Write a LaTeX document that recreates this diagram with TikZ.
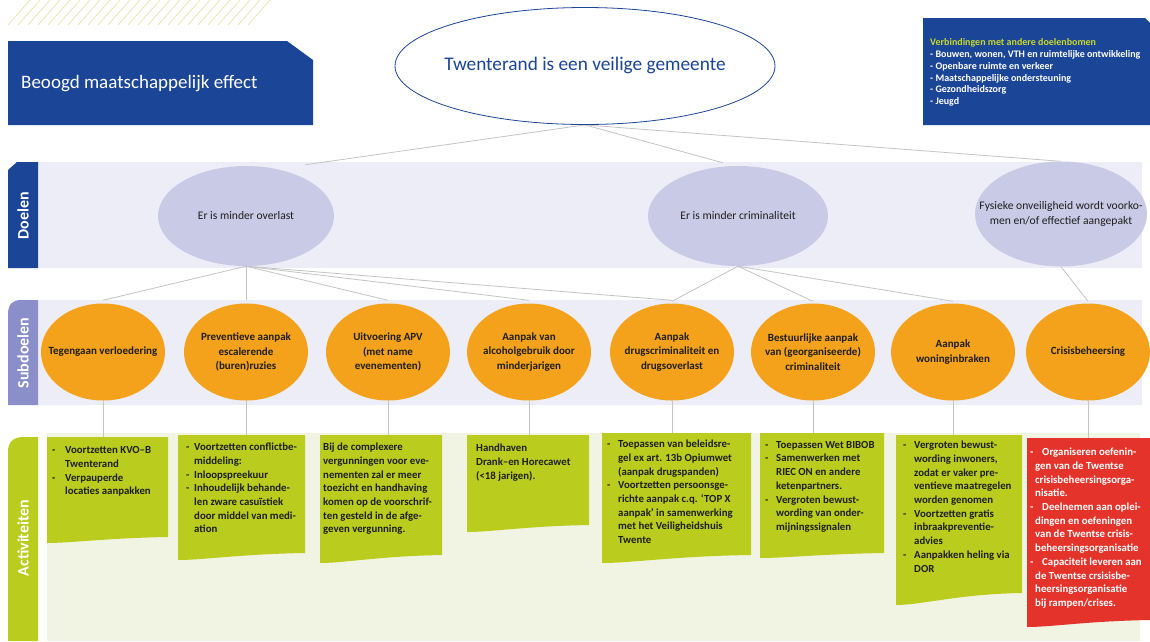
\documentclass[tikz,border=0pt]{standalone}
\usepackage{fontspec}
\setmainfont{Carlito}
\usetikzlibrary{shapes.geometric}
\definecolor{dblue}{RGB}{27,69,150}
\definecolor{lav}{RGB}{237,237,247}
\definecolor{doelfill}{RGB}{201,202,230}
\definecolor{subtab}{RGB}{138,142,201}
\definecolor{orng}{RGB}{244,162,27}
\definecolor{lgreen}{RGB}{186,205,30}
\definecolor{paleg}{RGB}{242,244,227}
\definecolor{rred}{RGB}{228,51,42}
\definecolor{ygtxt}{RGB}{200,217,42}
\definecolor{lgrey}{RGB}{196,196,196}
\definecolor{hatchc}{RGB}{226,224,160}
\definecolor{txt}{RGB}{30,30,30}
\pgfdeclarelayer{back}
\pgfdeclarelayer{lines}
\pgfsetlayers{back,lines,main}
\newcommand\dsh[1]{\makebox[#1][l]{-}}
\newcommand\ind[1]{\hspace*{#1}}
\newcommand\actbox[6]{%
  \fill[#1] (#2,#4) -- (#3,#4) -- (#3,#6) .. controls ({#2+0.5*(#3-#2)},{#6+1}) and ({#2+0.2*(#3-#2)},#5) .. (#2,#5) -- cycle;}
\begin{document}
\begin{tikzpicture}[x=1pt,y=-1pt,
 conn/.style={draw=lgrey,line width=0.8pt},
 ell/.style={ellipse,inner xsep=-45pt,inner ysep=-20pt,align=center},
 doel/.style={ell,fill=doelfill,minimum width=176pt,minimum height=100pt,text=txt,font=\fontsize{11.6}{15}\selectfont},
 sub/.style={ell,fill=orng,minimum width=124pt,minimum height=97pt,text=txt,font=\bfseries\fontsize{11}{14.5}\selectfont},
 acttext/.style={anchor=north west,align=left,inner sep=0pt,text=txt,font=\bfseries\fontsize{10.8}{13.7}\selectfont},
 tablabel/.style={rotate=90,text=white,font=\bfseries\fontsize{16}{16}\selectfont},
]
\useasboundingbox (0,0) rectangle (1150,641);

\begin{pgfonlayer}{back}
\fill[white] (0,0) rectangle (1150,641);
% hatch lines
\foreach \i in {0,...,24} \draw[hatchc,line width=0.6pt] ({8+10*\i},25) -- ({30+10*\i},0);
% bands
\fill[lav] (38,162) rectangle (1142,268);
\fill[lav] (38,300) rectangle (1142,405);
\fill[paleg] (47,433) rectangle (1140,641);
\end{pgfonlayer}

% title boxes
\fill[dblue] (8,41) -- (287,41) -- (313,60) -- (313,125) -- (8,125) -- cycle;
\node[anchor=west,text=white,font=\fontsize{19}{21}\selectfont,inner sep=0pt] (beoogd) at (21,84) {Beoogd maatschappelijk effect};

\fill[dblue] (923,18) -- (1145,18) -- (1150,23) -- (1150,125) -- (923,125) -- cycle;
\node[anchor=north west,align=left,inner sep=0pt,text=white,font=\bfseries\fontsize{10}{11.8}\selectfont] (verb) at (930,38.5)
 {\textcolor{ygtxt}{Verbindingen met andere doelenbomen}\\- Bouwen, wonen, VTH en ruimtelijke ontwikkeling\\- Openbare ruimte en verkeer\\- Maatschappelijke ondersteuning\\- Gezondheidszorg\\- Jeugd};

% tabs
\fill[dblue] (8,170) -- (17,162) -- (38,162) -- (38,268) -- (8,268) -- cycle;
\node[tablabel] (ldoel) at (23,216) {Doelen};
\fill[subtab] (8,405) -- (8,314) .. controls (8,305) and (12,300) .. (21,300) -- (38,300) -- (38,405) -- cycle;
\node[tablabel] (lsub) at (23,353) {Subdoelen};
\fill[lgreen] (8,641) -- (8,452) .. controls (8,442) and (13,437) .. (24,437) -- (38,437) -- (38,641) -- cycle;
\node[tablabel] (lact) at (23,538) {Activiteiten};

% top goal
\node[ell,inner xsep=-80pt,draw=dblue,line width=0.8pt,fill=white,minimum width=380pt,minimum height=117pt,text=dblue,font=\fontsize{19.3}{22}\selectfont] (T) at (585,66) {\raisebox{4pt}{Twenterand is een veilige gemeente}};

% goals
\node[doel] (D1) at (246,216) {Er is minder overlast};
\node[doel,minimum width=180pt] (D2) at (738,216) {Er is minder criminaliteit};
\node[doel,minimum width=172pt,minimum height=105pt] (D3) at (1061,214) {Fysieke onveiligheid wordt voorko-\\men en/of effectief aangepakt};

% subgoals
\node[sub] (S1) at (103,352) {Tegengaan verloedering};
\node[sub] (S2) at (246,352) {Preventieve aanpak\\escalerende\\(buren)ruzies};
\node[sub] (S3) at (388,352) {Uitvoering APV\\(met name\\evenementen)};
\node[sub] (S4) at (529,352) {Aanpak van\\alcoholgebruik door\\minderjarigen};
\node[sub] (S5) at (672,352) {Aanpak\\drugscriminaliteit en\\drugsoverlast};
\node[sub] (S6) at (813,352) {Bestuurlijke aanpak\\van (georganiseerde)\\criminaliteit};
\node[sub] (S7) at (953,352) {Aanpak\\woninginbraken};
\node[sub] (S8) at (1088,352) {Crisisbeheersing};

% activity boxes
\actbox{lgreen}{47}{168}{437}{543}{537}
\actbox{lgreen}{178}{305}{435}{560}{553}
\actbox{lgreen}{320}{442}{435}{563}{555}
\actbox{lgreen}{467}{589}{435}{532}{525}
\actbox{lgreen}{602}{751}{433}{563}{555}
\actbox{lgreen}{760}{884}{433}{558}{553}
\actbox{lgreen}{896}{1022}{435}{605}{593}
\actbox{rred}{1027}{1150}{438}{627}{620}

\coordinate (B1) at (103,437);
\coordinate (B2) at (246,435);
\coordinate (B3) at (388,435);
\coordinate (B4) at (529,435);
\coordinate (B5) at (672,433);
\coordinate (B6) at (813,433);
\coordinate (B7) at (953,435);
\coordinate (B8) at (1088,438);

% connectors
\begin{pgfonlayer}{lines}
\draw[conn] (T.south) -- ([xshift=59pt,yshift=1pt]D1.north);
\draw[conn] (T.south) -- ([xshift=-15pt,yshift=3pt]D2.north);
\draw[conn] (T.south) -- (D3.north);
\foreach \s in {S1,S2,S3,S4,S5} \draw[conn] (D1.south) -- ([yshift=3pt]\s.north);
\foreach \s in {S5,S6,S7} \draw[conn] (D2.south) -- ([yshift=2pt]\s.north);
\draw[conn] (D3.south) -- ([yshift=2pt]S8.north);
\foreach \i in {1,...,8} \draw[conn] (S\i.south) -- (B\i);
\end{pgfonlayer}

\node[acttext] (A1) at (52,446.5) {\dsh{13pt}Voortzetten KVO–B\\\ind{13pt}Twenterand\\\dsh{13pt}Verpauperde\\\ind{13pt}locaties aanpakken};
\node[acttext] (A2) at (186,443) {\dsh{8pt}Voortzetten conflictbe-\\\ind{8pt}middeling:\\\dsh{8pt}Inloopspreekuur\\\dsh{8pt}Inhoudelijk behande-\\\ind{8pt}len zware casuïstiek\\\ind{8pt}door middel van medi-\\\ind{8pt}ation};
\node[acttext] (A3) at (323,443) {Bij de complexere\\vergunningen voor eve-\\nementen zal er meer\\toezicht en handhaving\\komen op de voorschrif-\\ten gesteld in de afge-\\geven vergunning.};
\node[acttext] (A4) at (476,444) {Handhaven\\Drank–en Horecawet\\(<18 jarigen).};
\node[acttext] (A5) at (607,440) {\dsh{11pt}Toepassen van beleidsre-\\\ind{11pt}gel ex art. 13b Opiumwet\\\ind{11pt}(aanpak drugspanden)\\\dsh{11pt}Voortzetten persoonsge-\\\ind{11pt}richte aanpak c.q. ‘TOP X\\\ind{11pt}aanpak’ in samenwerking\\\ind{11pt}met het Veiligheidshuis\\\ind{11pt}Twente};
\node[acttext] (A6) at (765,441) {\dsh{11pt}Toepassen Wet BIBOB\\\dsh{11pt}Samenwerken met\\\ind{11pt}RIEC ON en andere\\\ind{11pt}ketenpartners.\\\dsh{11pt}Vergroten bewust-\\\ind{11pt}wording van onder-\\\ind{11pt}mijningssignalen};
\node[acttext] (A7) at (903,441) {\dsh{11pt}Vergroten bewust-\\\ind{11pt}wording inwoners,\\\ind{11pt}zodat er vaker pre-\\\ind{11pt}ventieve maatregelen\\\ind{11pt}worden genomen\\\dsh{11pt}Voortzetten gratis\\\ind{11pt}inbraakpreventie-\\\ind{11pt}advies\\\dsh{11pt}Aanpakken heling via\\\ind{11pt}DOR};
\node[acttext,text=white] (A8) at (1030,448) {\dsh{12pt}Organiseren oefenin-\\\ind{5pt}gen van de Twentse\\\ind{5pt}crisisbeheersingsorga-\\\ind{5pt}nisatie.\\\dsh{12pt}Deelnemen aan oplei-\\\ind{5pt}dingen en oefeningen\\\ind{5pt}van de Twentse crisis-\\\ind{5pt}beheersingsorganisatie\\\dsh{12pt}Capaciteit leveren aan\\\ind{5pt}de Twentse crsisisbe-\\\ind{5pt}heersingsorganisatie\\\ind{5pt}bij rampen/crises.};
\end{tikzpicture}
\end{document}
